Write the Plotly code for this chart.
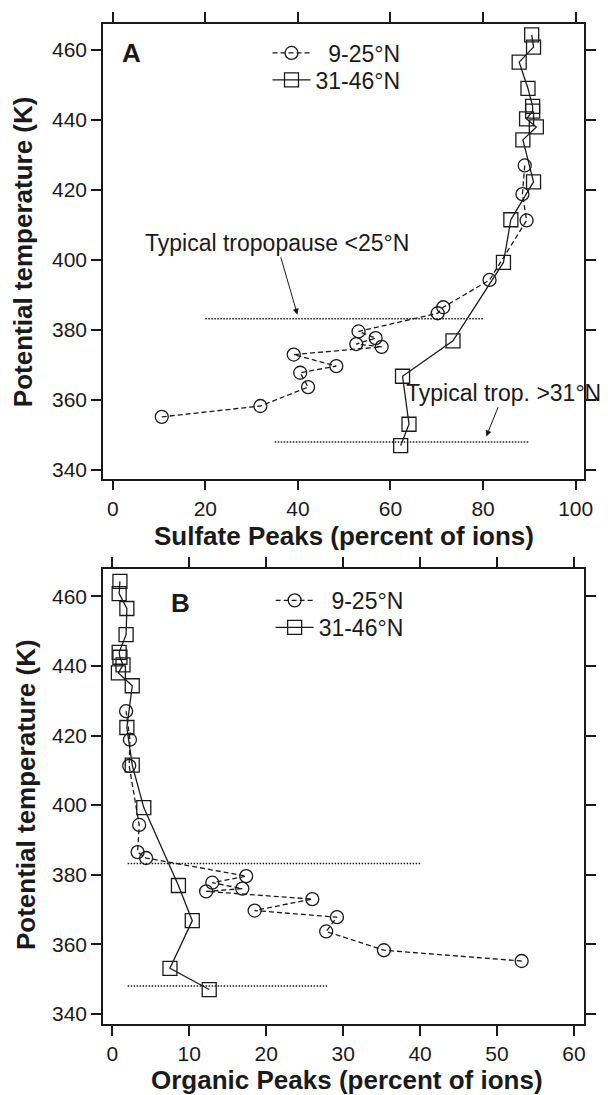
import plotly.graph_objects as go

# ---------------- data ----------------
# 9-25°N profile (circles)
theta_low = [355.2, 358.3, 363.7, 367.8, 369.7, 373.0, 375.2, 376.0, 377.7, 379.6,
             384.8, 386.5, 394.3, 411.3, 418.8, 427.0]
sulfate_low = [10.6, 31.9, 42.2, 40.5, 48.3, 39.1, 58.1, 52.6, 56.8, 53.1,
               70.2, 71.4, 81.4, 89.4, 88.5, 89.0]
organic_low = [53.2, 35.3, 27.8, 29.2, 18.5, 26.0, 12.2, 16.9, 13.0, 17.4,
               4.4, 3.3, 3.5, 2.2, 2.3, 1.8]

# 31-46°N profile (squares)
theta_high = [347.0, 353.1, 366.8, 376.9, 399.3, 411.5, 422.3, 434.3, 438.0, 440.3,
              442.5, 443.9, 449.0, 456.5, 460.8, 464.3]
sulfate_high = [62.2, 64.0, 62.6, 73.5, 84.4, 86.0, 90.9, 88.6, 91.5, 89.4,
                90.7, 90.7, 89.7, 87.8, 90.9, 90.5]
organic_high = [12.6, 7.5, 10.4, 8.6, 4.1, 2.6, 1.9, 2.6, 0.8, 1.4,
                1.0, 0.9, 1.8, 1.9, 0.9, 1.0]

# typical tropopause levels and the x-extent of their dotted markers
trop_low_theta = 383.2
trop_high_theta = 348.0
trop_low_x_A = [20, 80]
trop_high_x_A = [35, 90]
trop_low_x_B = [2, 40]
trop_high_x_B = [2, 28]

x_ticks_A = [0, 20, 40, 60, 80, 100]
x_ticks_B = [0, 10, 20, 30, 40, 50, 60]
y_ticks = [340, 360, 380, 400, 420, 440, 460]

lab_low = "\u00a0\u00a09-25°N"
lab_high = "31-46°N"

# ---------------- figure ----------------
FONT = "Liberation Sans, Arial, Helvetica, sans-serif"
INK = "#1a1a1a"

fig = go.Figure()

def add_panel(xl, xh, xa, ya, leg_low, leg_high):
    fig.add_trace(go.Scatter(
        x=xl, y=theta_low, mode="lines+markers", name=lab_low,
        xaxis=xa, yaxis=ya, legend=leg_low,
        line=dict(color=INK, width=1.3, dash="5px,3px"),
        marker=dict(symbol="circle-open", size=13, color=INK, line=dict(width=1.3)),
    ))
    fig.add_trace(go.Scatter(
        x=xh, y=theta_high, mode="lines+markers", name=lab_high,
        xaxis=xa, yaxis=ya, legend=leg_high,
        line=dict(color=INK, width=1.3),
        marker=dict(symbol="square-open", size=14, color=INK, line=dict(width=1.3)),
    ))

def add_trop(xr, th, xa, ya):
    fig.add_trace(go.Scatter(
        x=xr, y=[th, th], mode="lines", showlegend=False, hoverinfo="skip",
        xaxis=xa, yaxis=ya,
        line=dict(color=INK, width=1.5, dash="1.5px,1.5px"),
    ))

add_trop(trop_low_x_A, trop_low_theta, "x", "y")
add_trop(trop_high_x_A, trop_high_theta, "x", "y")
add_trop(trop_low_x_B, trop_low_theta, "x2", "y2")
add_trop(trop_high_x_B, trop_high_theta, "x2", "y2")
add_panel(sulfate_low, sulfate_high, "x", "y", "legend", "legend2")
add_panel(organic_low, organic_high, "x2", "y2", "legend3", "legend4")

axis_common = dict(
    showline=True, mirror="ticks", linecolor=INK, linewidth=1.6,
    ticks="outside", ticklen=10, tickwidth=1.5, tickcolor=INK,
    showgrid=False, zeroline=False,
    tickfont=dict(family=FONT, size=21, color=INK),
)

def leg(x, y):
    return dict(x=x, y=y, xanchor="left", yanchor="middle",
                bgcolor="rgba(0,0,0,0)", font=dict(family=FONT, size=23, color=INK),
                itemwidth=38, borderwidth=0)

fig.update_layout(
    width=608, height=1095,
    margin=dict(l=103, r=13, t=23, b=71),
    paper_bgcolor="white", plot_bgcolor="white",
    font=dict(family=FONT, color=INK),
    xaxis=dict(domain=[0, 1], anchor="y", range=[-2.1, 101.8],
               tickvals=x_ticks_A, **axis_common),
    yaxis=dict(domain=[0.5455, 1], anchor="x", range=[337.6, 467.4],
               tickvals=y_ticks, **axis_common),
    xaxis2=dict(domain=[0, 1], anchor="y2", range=[-1.2, 61.3],
                tickvals=x_ticks_B, **axis_common),
    yaxis2=dict(domain=[0, 0.4555], anchor="x2", range=[337.1, 468.0],
                tickvals=y_ticks, **axis_common),
    legend=leg(0.342, 0.971),
    legend2=leg(0.342, 0.944),
    legend3=leg(0.3485, 0.4236),
    legend4=leg(0.3485, 0.3966),
    showlegend=True,
)

ann = []
# panel letters
ann.append(dict(text="<b>A</b>", x=4.1, y=459.1, xref="x", yref="y", showarrow=False,
                font=dict(family=FONT, size=26, color=INK)))
ann.append(dict(text="<b>B</b>", x=8.9, y=458.0, xref="x2", yref="y2", showarrow=False,
                font=dict(family=FONT, size=26, color=INK)))
# axis titles
title_font = dict(family=FONT, size=26, color=INK)
ctr = dict(xanchor="center", yanchor="middle", showarrow=False, xref="paper", yref="paper")
ann.append(dict(text="<b>Sulfate Peaks (percent of ions)</b>", x=0.502, y=0.4885,
                font=title_font, **ctr))
ann.append(dict(text="<b>Organic Peaks (percent of ions)</b>", x=0.508, y=-0.056,
                font=title_font, **ctr))
ann.append(dict(text="<b>Potential temperature (K)</b>", x=-0.166, y=0.772,
                textangle=-90, font=title_font, **ctr))
ann.append(dict(text="<b>Potential temperature (K)</b>", x=-0.16, y=0.229,
                textangle=-90, font=title_font, **ctr))
# tropopause labels with arrows
note_font = dict(family=FONT, size=23, color=INK)
ann.append(dict(text="Typical tropopause <25°N", x=39.9, y=384.4, xref="x", yref="y",
                ax=35.4, ay=404.9, axref="x", ayref="y", showarrow=True,
                arrowhead=2, arrowsize=1.2, arrowwidth=1, arrowcolor=INK, standoff=0,
                font=note_font))
ann.append(dict(text="Typical trop. >31°N", x=80.7, y=349.6, xref="x", yref="y",
                ax=84.5, ay=362.1, axref="x", ayref="y", showarrow=True,
                arrowhead=2, arrowsize=1.2, arrowwidth=1, arrowcolor=INK, standoff=0,
                font=note_font))
fig.update_layout(annotations=ann)

fig.write_html("out.html")
